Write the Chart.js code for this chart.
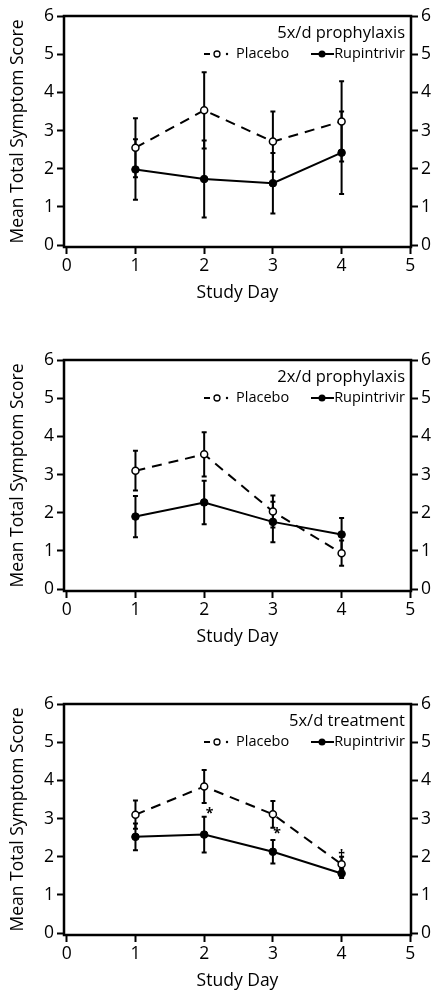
<!DOCTYPE html>
<html><head><meta charset="utf-8">
<script src="https://cdn.jsdelivr.net/npm/chart.js@4.4.1/dist/chart.umd.min.js"></script>
<style>
html,body{margin:0;padding:0;background:#fff;}
body{width:444px;height:998px;position:relative;overflow:hidden;}
.panel{position:absolute;left:0;width:444px;height:310px;}
</style></head><body>
<div class="panel" style="top:0px"><canvas id="c1"></canvas></div>
<div class="panel" style="top:344px"><canvas id="c2"></canvas></div>
<div class="panel" style="top:688px"><canvas id="c3"></canvas></div>
<script>
// ---- data ----
const studyDays = [1, 2, 3, 4];
const xTickValues = [0, 1, 2, 3, 4, 5];
const yTickValues = [0, 0.5, 1, 1.5, 2, 2.5, 3, 3.5, 4, 4.5, 5, 5.5, 6];
const panelTitles = ['5x/d prophylaxis', '2x/d prophylaxis', '5x/d treatment'];
const seriesNames = ['Placebo', 'Rupintrivir'];
const xTitle = 'Study Day';
const yTitle = 'Mean Total Symptom Score';

const p1PlaceboMean = [2.55, 3.53, 2.71, 3.24];
const p1PlaceboErr  = [0.77, 1.00, 0.79, 1.05];
const p1RupMean     = [1.98, 1.73, 1.62, 2.42];
const p1RupErr      = [0.79, 1.01, 0.79, 1.08];

const p2PlaceboMean = [3.10, 3.53, 2.03, 0.94];
const p2PlaceboErr  = [0.52, 0.58, 0.42, 0.33];
const p2RupMean     = [1.90, 2.27, 1.76, 1.43];
const p2RupErr      = [0.54, 0.57, 0.53, 0.43];

const p3PlaceboMean = [3.10, 3.84, 3.11, 1.80];
const p3PlaceboErr  = [0.37, 0.43, 0.35, 0.20];
const p3RupMean     = [2.52, 2.58, 2.13, 1.56];
const p3RupErr      = [0.35, 0.47, 0.31, 0.12];

// significance marks for panel 3
const p3MarkText = ['*', '*', '\u2020'];
const p3MarkX    = [2.08, 3.06, 4.0];
const p3MarkY    = [3.12, 2.60, 2.02];

// ---- drawing ----
const FONT = "'Open Sans', 'DejaVu Sans', sans-serif";
const AXFONT = 17.5;

const decorPlugin = {
  id: 'decor',
  beforeDatasetsDraw(chart) {
    const {ctx, chartArea: a, scales} = chart;
    const xs = scales.x, ys = scales.y;
    ctx.save();
    ctx.strokeStyle = '#000';
    ctx.lineWidth = 2.5;
    ctx.strokeRect(a.left, a.top, a.right - a.left, a.bottom - a.top);
    // error bars
    ctx.lineWidth = 2;
    chart.data.datasets.forEach(ds => {
      ds.data.forEach((p, i) => {
        const e = ds.err[i];
        const x = xs.getPixelForValue(p.x);
        const y1 = ys.getPixelForValue(p.y + e);
        const y2 = ys.getPixelForValue(p.y - e);
        ctx.beginPath();
        ctx.moveTo(x, y1); ctx.lineTo(x, y2);
        ctx.moveTo(x - 2.5, y1); ctx.lineTo(x + 2.5, y1);
        ctx.moveTo(x - 2.5, y2); ctx.lineTo(x + 2.5, y2);
        ctx.stroke();
      });
    });
    ctx.restore();
  },
  afterDraw(chart) {
    const {ctx, chartArea: a, scales} = chart;
    const o = chart.options.plugins.decor;
    ctx.save();
    ctx.fillStyle = '#000';
    ctx.strokeStyle = '#000';
    // title
    ctx.font = "16.5px " + FONT;
    ctx.textAlign = 'right';
    ctx.textBaseline = 'middle';
    ctx.fillText(o.title, a.right - 6, a.top + 17);
    // legend
    const ly = a.top + 38;
    ctx.font = "14.5px " + FONT;
    ctx.textAlign = 'left';
    ctx.fillText(seriesNames[0], 236, ly);
    ctx.lineWidth = 2;
    ctx.beginPath(); ctx.moveTo(204, ly); ctx.lineTo(210, ly); ctx.stroke();
    ctx.lineWidth = 1.3;
    ctx.beginPath(); ctx.arc(217, ly, 3, 0, Math.PI * 2); ctx.fillStyle = '#fff'; ctx.fill(); ctx.stroke();
    ctx.fillStyle = '#000';
    ctx.beginPath(); ctx.arc(227, ly, 1.2, 0, Math.PI * 2); ctx.fill();
    ctx.textAlign = 'right';
    ctx.fillText(seriesNames[1], a.right - 6, ly);
    ctx.lineWidth = 2;
    ctx.beginPath(); ctx.moveTo(311, ly); ctx.lineTo(334, ly); ctx.stroke();
    ctx.beginPath(); ctx.arc(322, ly, 3.5, 0, Math.PI * 2); ctx.fill();
    // marks
    if (o.marks) {
      ctx.font = "bold 14px " + FONT;
      ctx.textAlign = 'center';
      o.marks.text.forEach((t, i) => {
        ctx.fillText(t, scales.x.getPixelForValue(o.marks.x[i]), scales.y.getPixelForValue(o.marks.y[i]));
      });
    }
    ctx.restore();
  }
};

function yAxis(pos, width, withTitle) {
  return {
    type: 'linear', position: pos, min: -0.05, max: 6,
    afterBuildTicks: s => { s.ticks = yTickValues.map(v => ({value: v})); },
    afterFit: s => { s.width = width; },
    grid: {drawOnChartArea: false, tickLength: 7, tickWidth: 2, color: '#000'},
    border: {display: false},
    ticks: {color: '#000', font: {family: FONT, size: AXFONT}, padding: 3,
            callback: v => Number.isInteger(v) ? String(v) : ''},
    title: {display: withTitle, text: yTitle, color: '#000',
            font: {family: FONT, size: AXFONT}, padding: {top: 7.5, bottom: 0}}
  };
}

function makePanel(id, title, plMean, plErr, ruMean, ruErr, marks) {
  const pts = m => studyDays.map((d, i) => ({x: d, y: m[i]}));
  new Chart(document.getElementById(id), {
    type: 'line',
    data: {datasets: [
      {label: seriesNames[0], data: pts(plMean), err: plErr, borderColor: '#000', borderWidth: 2,
       borderDash: [10, 7], pointRadius: 3.5, pointBackgroundColor: '#fff', pointBorderColor: '#000',
       pointBorderWidth: 1.5, tension: 0},
      {label: seriesNames[1], data: pts(ruMean), err: ruErr, borderColor: '#000', borderWidth: 2,
       pointRadius: 3.8, pointBackgroundColor: '#000', pointBorderColor: '#000',
       pointBorderWidth: 1, tension: 0}
    ]},
    options: {
      responsive: true, maintainAspectRatio: false, animation: false,
      layout: {padding: {top: 16, left: 0, right: 0, bottom: 0}},
      plugins: {legend: {display: false}, tooltip: {enabled: false},
                decor: {title: title, marks: marks}},
      scales: {
        x: {type: 'linear', position: 'bottom', min: -0.04, max: 5.01,
            afterBuildTicks: s => { s.ticks = xTickValues.map(v => ({value: v})); },
            afterFit: s => { s.height = 63; },
            grid: {drawOnChartArea: false, tickLength: 7, tickWidth: 2, color: '#000'},
            border: {display: false},
            ticks: {color: '#000', font: {family: FONT, size: AXFONT}, padding: 2, maxRotation: 0, autoSkip: false},
            title: {display: true, text: xTitle, color: '#000', font: {family: FONT, size: AXFONT},
                    padding: {top: 0, bottom: 6}}},
        y: yAxis('left', 64, true),
        y2: yAxis('right', 33, false)
      }
    },
    plugins: [decorPlugin]
  });
}

makePanel('c1', panelTitles[0], p1PlaceboMean, p1PlaceboErr, p1RupMean, p1RupErr, null);
makePanel('c2', panelTitles[1], p2PlaceboMean, p2PlaceboErr, p2RupMean, p2RupErr, null);
makePanel('c3', panelTitles[2], p3PlaceboMean, p3PlaceboErr, p3RupMean, p3RupErr,
          {text: p3MarkText, x: p3MarkX, y: p3MarkY});
</script>
</body></html>
